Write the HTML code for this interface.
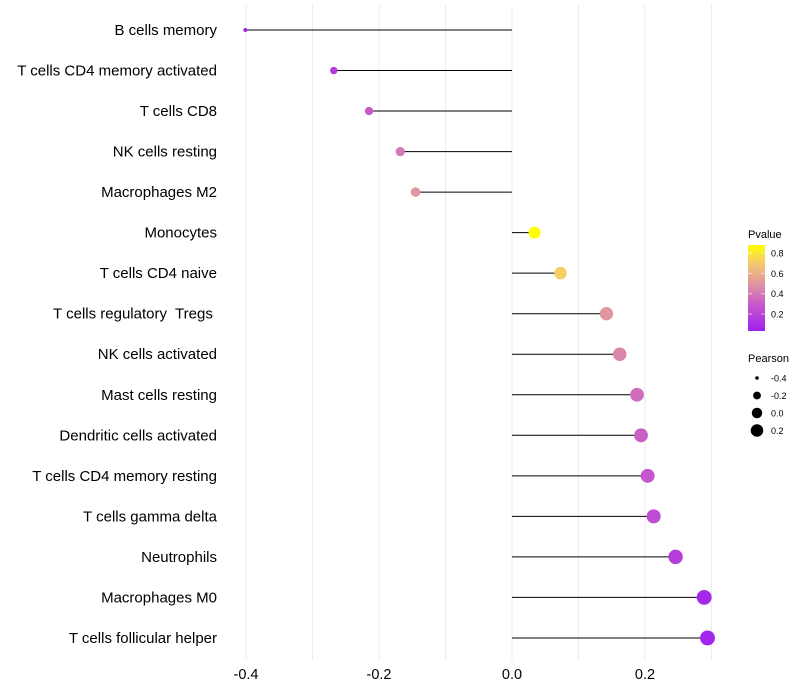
<!DOCTYPE html>
<html><head><meta charset="utf-8"><style>body{margin:0;background:#fff}svg{display:block;font-family:"Liberation Sans",sans-serif}text{white-space:pre}</style></head>
<body>
<svg id="c" width="800" height="700"></svg>
<script>
const categories=["B cells memory","T cells CD4 memory activated","T cells CD8","NK cells resting","Macrophages M2","Monocytes","T cells CD4 naive","T cells regulatory  Tregs ","NK cells activated","Mast cells resting","Dendritic cells activated","T cells CD4 memory resting","T cells gamma delta","Neutrophils","Macrophages M0","T cells follicular helper"];
const pearson=[-0.401,-0.268,-0.215,-0.168,-0.145,0.034,0.073,0.142,0.162,0.188,0.194,0.204,0.213,0.246,0.289,0.294];
const pvalue=[0.04,0.15,0.3,0.4,0.5,0.88,0.72,0.5,0.45,0.36,0.32,0.28,0.24,0.17,0.07,0.06];
const xTicks=[-0.4,-0.2,0.0,0.2];
const xMinor=[-0.3,-0.1,0.1,0.3];
const pTicks=[0.8,0.6,0.4,0.2];
const sizeTicks=[-0.4,-0.2,0.0,0.2];

const NS="http://www.w3.org/2000/svg",svg=document.getElementById('c');
function el(t,a,p){const e=document.createElementNS(NS,t);for(const k in a)e.setAttribute(k,a[k]);(p||svg).appendChild(e);return e;}
const x=v=>512+v*665;
const y=i=>30+i*40.53;
const r=v=>Math.sqrt(4+(v+0.4)/0.7*52);
const stops=[[0.03,[160,32,240]],[0.3,[200,90,200]],[0.5,[225,150,160]],[0.7,[245,200,110]],[0.88,[255,255,0]]];
function col(p){p=Math.max(0.03,Math.min(0.88,p));for(let k=0;k<stops.length-1;k++){const a=stops[k],b=stops[k+1];if(p<=b[0]){const t=(p-a[0])/(b[0]-a[0]);return 'rgb('+a[1].map((c,j)=>Math.round(c+(b[1][j]-c)*t)).join(',')+')';}}return 'rgb(255,255,0)';}
const cb=p=>331-(p-0.033)/(0.88-0.033)*86;

[...xTicks,...xMinor].forEach(v=>{const g=el('line',{x1:x(v),x2:x(v),y1:5,y2:660,stroke:'#ebebeb','stroke-width':1});

});
xTicks.forEach(v=>{const t=el('text',{x:x(v),y:679,'font-size':14.5,'text-anchor':'middle',fill:'#000'});t.textContent=v.toFixed(1);

});
categories.forEach((c,i)=>{
 const t=el('text',{x:217,y:y(i)+5,'font-size':15,'text-anchor':'end',fill:'#000'});t.textContent=c;
 
 
 const l=el('line',{x1:x(0),x2:x(pearson[i]),y1:y(i),y2:y(i),stroke:'#000','stroke-width':1});
 
 
 const d=el('circle',{cx:x(pearson[i]),cy:y(i),r:r(pearson[i]),fill:col(pvalue[i])});
 
 
});
const lt=el('text',{x:748,y:238,'font-size':11});lt.textContent='Pvalue';


const defs=el('defs',{});const gr=el('linearGradient',{id:'g',x1:0,y1:1,x2:0,y2:0},defs);
for(let p=0.03;p<=0.881;p+=0.05){el('stop',{offset:(p-0.03)/0.85,'stop-color':col(p)},gr);}
const bar=el('rect',{x:748,y:245,width:17,height:86,fill:'url(#g)'});


pTicks.forEach(p=>{el('line',{x1:748,x2:752,y1:cb(p),y2:cb(p),stroke:'#fff','stroke-opacity':0.6});el('line',{x1:761,x2:765,y1:cb(p),y2:cb(p),stroke:'#fff','stroke-opacity':0.6});
 const t=el('text',{x:771,y:cb(p)+3.5,'font-size':9});t.textContent=p.toFixed(1);
 
 });
const st=el('text',{x:748,y:362,'font-size':11});st.textContent='Pearson';


sizeTicks.forEach((v,i)=>{const cy=378+i*17.5;
 const d=el('circle',{cx:757,cy:cy,r:r(v)*0.9,fill:'#000'});
 
 
 const t=el('text',{x:771,y:cy+3.5,'font-size':9});t.textContent=v.toFixed(1);
 
 });
</script>
</body></html>
